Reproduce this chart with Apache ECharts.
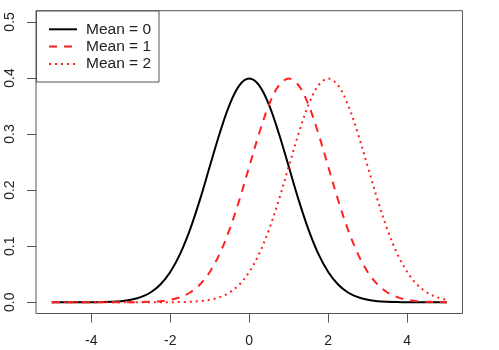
<!DOCTYPE html>
<html>
<head>
<meta charset="utf-8">
<script src="https://cdn.jsdelivr.net/npm/echarts@6/dist/echarts.min.js"></script>
<style>
  html, body { margin: 0; padding: 0; background: #fff; }
  #chart { width: 499px; height: 350px; }
</style>
</head>
<body>
<div id="chart"></div>
<script>
// Grid of x positions, step 0.25 from -5 to 5
const xs = [-5, -4.75, -4.5, -4.25, -4, -3.75, -3.5, -3.25, -3, -2.75, -2.5, -2.25, -2, -1.75, -1.5, -1.25,
  -1, -0.75, -0.5, -0.25, 0, 0.25, 0.5, 0.75, 1, 1.25, 1.5, 1.75, 2, 2.25, 2.5, 2.75, 3, 3.25, 3.5, 3.75,
  4, 4.25, 4.5, 4.75, 5];

// Normal densities, sd = 1
const mean0 = [0, 0, 0, 0, 0.0001, 0.0004, 0.0009, 0.0020, 0.0044, 0.0091, 0.0175, 0.0317, 0.0540, 0.0863,
  0.1295, 0.1826, 0.2420, 0.3011, 0.3521, 0.3867, 0.3989, 0.3867, 0.3521, 0.3011, 0.2420, 0.1826, 0.1295,
  0.0863, 0.0540, 0.0317, 0.0175, 0.0091, 0.0044, 0.0020, 0.0009, 0.0004, 0.0001, 0, 0, 0, 0];
const mean1 = [0, 0, 0, 0, 0, 0, 0, 0, 0.0001, 0.0004, 0.0009, 0.0020, 0.0044, 0.0091, 0.0175, 0.0317,
  0.0540, 0.0863, 0.1295, 0.1826, 0.2420, 0.3011, 0.3521, 0.3867, 0.3989, 0.3867, 0.3521, 0.3011, 0.2420,
  0.1826, 0.1295, 0.0863, 0.0540, 0.0317, 0.0175, 0.0091, 0.0044, 0.0020, 0.0009, 0.0004, 0.0001];
const mean2 = [0, 0, 0, 0, 0, 0, 0, 0, 0, 0, 0, 0, 0.0001, 0.0004, 0.0009, 0.0020, 0.0044, 0.0091, 0.0175,
  0.0317, 0.0540, 0.0863, 0.1295, 0.1826, 0.2420, 0.3011, 0.3521, 0.3867, 0.3989, 0.3867, 0.3521, 0.3011,
  0.2420, 0.1826, 0.1295, 0.0863, 0.0540, 0.0317, 0.0175, 0.0091, 0.0044];

const xTicks = [-4, -2, 0, 2, 4];
const yTicks = [0, 0.1, 0.2, 0.3, 0.4, 0.5];
const legendNames = ['Mean = 0', 'Mean = 1', 'Mean = 2'];

const pairs = ys => xs.map((x, i) => [x, ys[i]]);

const chart = echarts.init(document.getElementById('chart'), null, { renderer: 'canvas' });

const axisGray = '#555';
const font = 'Liberation Sans, Arial, sans-serif';

function curve(name, ys, color, dash) {
  return {
    name: name,
    type: 'line',
    data: pairs(ys),
    showSymbol: false,
    smooth: 0.35,
    silent: true,
    animation: false,
    lineStyle: { color: color, width: 2, type: dash, cap: 'butt' }
  };
}

// Legend drawn as a boxed key in the top-left corner
const legendRows = [29.3, 46.6, 64];
const legendStyles = [
  { color: '#000', dash: null },
  { color: '#ff2020', dash: [8, 7] },
  { color: '#ff2020', dash: [2, 4] }
];
const legendGraphics = [{
  type: 'rect',
  shape: { x: 36.5, y: 11, width: 122.5, height: 71 },
  style: { fill: '#fff', stroke: axisGray, lineWidth: 1 },
  z: 10
}];
legendRows.forEach((y, i) => {
  legendGraphics.push({
    type: 'line',
    shape: { x1: 49, y1: y, x2: 77, y2: y },
    style: { stroke: legendStyles[i].color, lineWidth: 2, lineDash: legendStyles[i].dash },
    z: 11
  });
  legendGraphics.push({
    type: 'text',
    x: 86, y: y,
    style: { text: legendNames[i], fill: '#222', font: '15.5px ' + font, verticalAlign: 'middle', align: 'left' },
    z: 11
  });
});

chart.setOption({
  animation: false,
  backgroundColor: '#fff',
  grid: {
    left: 36, right: 36.5, top: 10.7, bottom: 36.5,
    show: true, borderColor: axisGray, borderWidth: 1, backgroundColor: 'transparent'
  },
  xAxis: {
    type: 'value', min: -5.4, max: 5.4, position: 'bottom',
    axisLine: { show: false, onZero: false },
    splitLine: { show: false },
    axisTick: { show: true, customValues: xTicks, length: 9, lineStyle: { color: axisGray } },
    axisLabel: {
      customValues: xTicks, margin: 21, color: '#222', fontSize: 14, fontFamily: font,
      formatter: v => String(v)
    }
  },
  yAxis: {
    type: 'value', min: -0.02, max: 0.52, position: 'left',
    axisLine: { show: false, onZero: false },
    splitLine: { show: false },
    axisTick: { show: true, customValues: yTicks, length: 9, lineStyle: { color: axisGray } },
    axisLabel: {
      customValues: yTicks, rotate: 90, margin: 19, color: '#222', fontSize: 14, fontFamily: font,
      formatter: v => v.toFixed(1)
    }
  },
  series: [
    curve(legendNames[0], mean0, '#000', 'solid'),
    curve(legendNames[1], mean1, '#ff2020', [8, 7]),
    curve(legendNames[2], mean2, '#ff2020', [2, 4])
  ],
  graphic: legendGraphics
});
</script>
</body>
</html>
